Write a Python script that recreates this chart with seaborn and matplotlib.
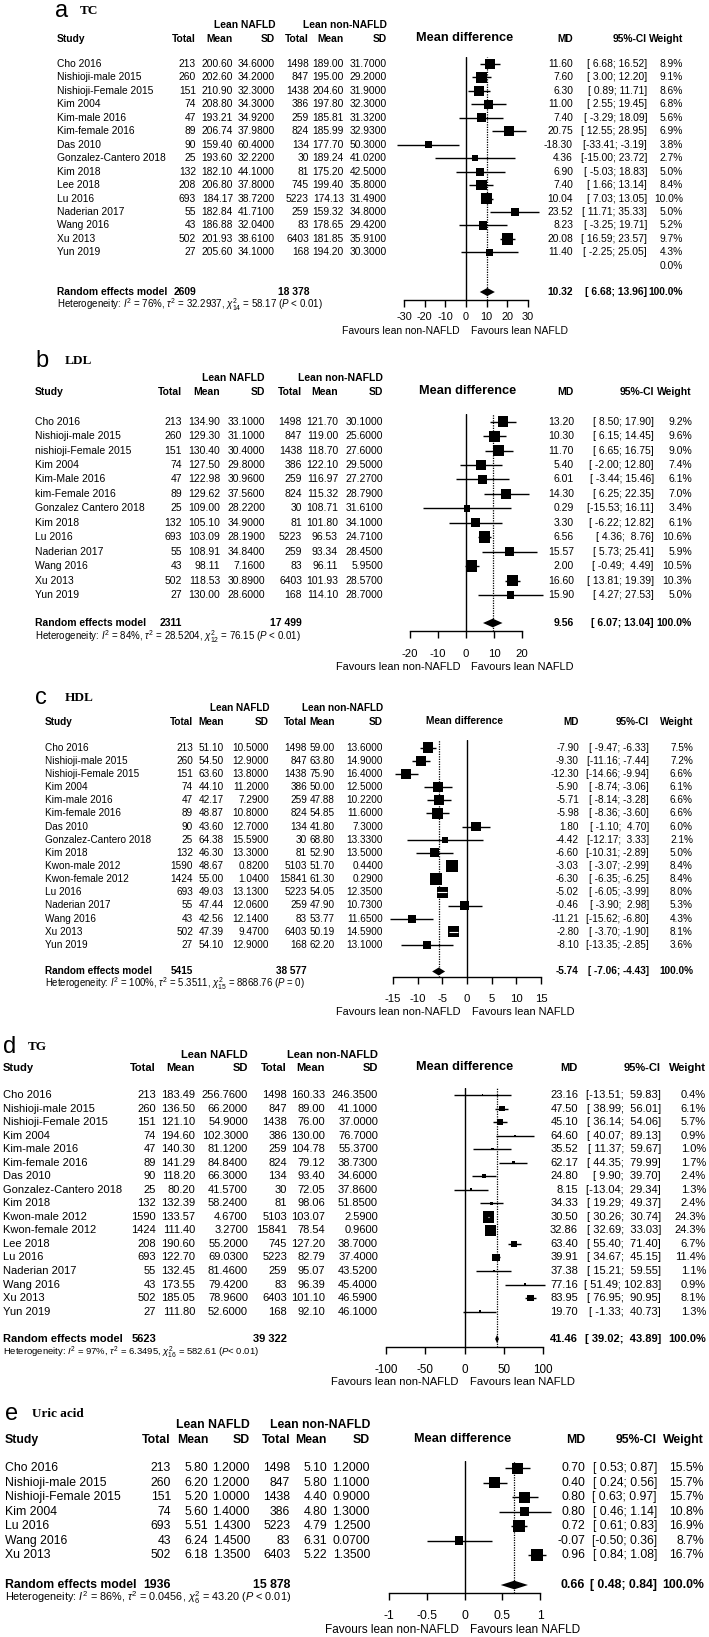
import numpy as np
import pandas as pd
import matplotlib
matplotlib.use('Agg')
import matplotlib.pyplot as plt
import matplotlib.transforms as mtransforms
import seaborn as sns

# ---------------- data ----------------
# a  TC
tc_study = ['Cho 2016', 'Nishioji-male 2015', 'Nishioji-Female 2015', 'Kim 2004', 'Kim-male 2016',
            'Kim-female 2016', 'Das 2010', 'Gonzalez-Cantero 2018', 'Kim 2018', 'Lee 2018', 'Lu 2016',
            'Naderian 2017', 'Wang 2016', 'Xu 2013', 'Yun 2019']
tc_n1 = [213, 260, 151, 74, 47, 89, 90, 25, 132, 208, 693, 55, 43, 502, 27]
tc_m1 = [200.60, 202.60, 210.90, 208.80, 193.21, 206.74, 159.40, 193.60, 182.10, 206.80, 184.17, 182.84, 186.88, 201.93, 205.60]
tc_s1 = [34.60, 34.20, 32.30, 34.30, 34.92, 37.98, 60.40, 32.22, 44.10, 37.80, 38.72, 41.71, 32.04, 38.61, 34.10]
tc_n2 = [1498, 847, 1438, 386, 259, 824, 134, 30, 81, 745, 5223, 259, 83, 6403, 168]
tc_m2 = [189.00, 195.00, 204.60, 197.80, 185.81, 185.99, 177.70, 189.24, 175.20, 199.40, 174.13, 159.32, 178.65, 181.85, 194.20]
tc_s2 = [31.70, 29.20, 31.90, 32.30, 31.32, 32.93, 50.30, 41.02, 42.50, 35.80, 31.49, 34.80, 29.42, 35.91, 30.30]
tc_md = [11.60, 7.60, 6.30, 11.00, 7.40, 20.75, -18.30, 4.36, 6.90, 7.40, 10.04, 23.52, 8.23, 20.08, 11.40]
tc_lo = [6.68, 3.00, 0.89, 2.55, -3.29, 12.55, -33.41, -15.00, -5.03, 1.66, 7.03, 11.71, -3.25, 16.59, -2.25]
tc_hi = [16.52, 12.20, 11.71, 19.45, 18.09, 28.95, -3.19, 23.72, 18.83, 13.14, 13.05, 35.33, 19.71, 23.57, 25.05]
tc_w = [8.9, 9.1, 8.6, 6.8, 5.6, 6.9, 3.8, 2.7, 5.0, 8.4, 10.0, 5.0, 5.2, 9.7, 4.3]
tc_extra_w = [0.0]
tc_sum = [10.32, 6.68, 13.96]
tc_tot = ['2609', '18 378']
tc_het = r'Heterogeneity: $I^2$ = 76%, $\tau^2$ = 32.2937, $\chi^2_{14}$ = 58.17 ($P$ < 0.01)'
tc_ticks = [-30, -20, -10, 0, 10, 20, 30]

# b  LDL
ldl_study = ['Cho 2016', 'Nishioji-male 2015', 'nishioji-Female 2015', 'Kim 2004', 'Kim-Male 2016',
             'kim-Female 2016', 'Gonzalez Cantero 2018', 'Kim 2018', 'Lu 2016', 'Naderian 2017',
             'Wang 2016', 'Xu 2013', 'Yun 2019']
ldl_n1 = [213, 260, 151, 74, 47, 89, 25, 132, 693, 55, 43, 502, 27]
ldl_m1 = [134.90, 129.30, 130.40, 127.50, 122.98, 129.62, 109.00, 105.10, 103.09, 108.91, 98.11, 118.53, 130.00]
ldl_s1 = [33.10, 31.10, 30.40, 29.80, 30.96, 37.56, 28.22, 34.90, 28.19, 34.84, 7.16, 30.89, 28.60]
ldl_n2 = [1498, 847, 1438, 386, 259, 824, 30, 81, 5223, 259, 83, 6403, 168]
ldl_m2 = [121.70, 119.00, 118.70, 122.10, 116.97, 115.32, 108.71, 101.80, 96.53, 93.34, 96.11, 101.93, 114.10]
ldl_s2 = [30.10, 25.60, 27.60, 29.50, 27.27, 28.79, 31.61, 34.10, 24.71, 28.45, 5.95, 28.57, 28.70]
ldl_md = [13.20, 10.30, 11.70, 5.40, 6.01, 14.30, 0.29, 3.30, 6.56, 15.57, 2.00, 16.60, 15.90]
ldl_lo = [8.50, 6.15, 6.65, -2.00, -3.44, 6.25, -15.53, -6.22, 4.36, 5.73, -0.49, 13.81, 4.27]
ldl_hi = [17.90, 14.45, 16.75, 12.80, 15.46, 22.35, 16.11, 12.82, 8.76, 25.41, 4.49, 19.39, 27.53]
ldl_w = [9.2, 9.6, 9.0, 7.4, 6.1, 7.0, 3.4, 6.1, 10.6, 5.9, 10.5, 10.3, 5.0]
ldl_sum = [9.56, 6.07, 13.04]
ldl_tot = ['2311', '17 499']
ldl_het = r'Heterogeneity: $I^2$ = 84%, $\tau^2$ = 28.5204, $\chi^2_{12}$ = 76.15 ($P$ < 0.01)'
ldl_ticks = [-20, -10, 0, 10, 20]

# c  HDL
hdl_study = ['Cho 2016', 'Nishioji-male 2015', 'Nishioji-Female 2015', 'Kim 2004', 'Kim-male 2016',
             'Kim-female 2016', 'Das 2010', 'Gonzalez-Cantero 2018', 'Kim 2018', 'Kwon-male 2012',
             'Kwon-female 2012', 'Lu 2016', 'Naderian 2017', 'Wang 2016', 'Xu 2013', 'Yun 2019']
hdl_n1 = [213, 260, 151, 74, 47, 89, 90, 25, 132, 1590, 1424, 693, 55, 43, 502, 27]
hdl_m1 = [51.10, 54.50, 63.60, 44.10, 42.17, 48.87, 43.60, 64.38, 46.30, 48.67, 55.00, 49.03, 47.44, 42.56, 47.39, 54.10]
hdl_s1 = [10.50, 12.90, 13.80, 11.20, 7.29, 10.80, 12.70, 15.59, 13.30, 0.82, 1.04, 13.13, 12.06, 12.14, 9.47, 12.90]
hdl_n2 = [1498, 847, 1438, 386, 259, 824, 134, 30, 81, 5103, 15841, 5223, 259, 83, 6403, 168]
hdl_m2 = [59.00, 63.80, 75.90, 50.00, 47.88, 54.85, 41.80, 68.80, 52.90, 51.70, 61.30, 54.05, 47.90, 53.77, 50.19, 62.20]
hdl_s2 = [13.60, 14.90, 16.40, 12.50, 10.22, 11.60, 7.30, 13.33, 13.50, 0.44, 0.29, 12.35, 10.73, 11.65, 14.59, 13.10]
hdl_md = [-7.90, -9.30, -12.30, -5.90, -5.71, -5.98, 1.80, -4.42, -6.60, -3.03, -6.30, -5.02, -0.46, -11.21, -2.80, -8.10]
hdl_lo = [-9.47, -11.16, -14.66, -8.74, -8.14, -8.36, -1.10, -12.17, -10.31, -3.07, -6.35, -6.05, -3.90, -15.62, -3.70, -13.35]
hdl_hi = [-6.33, -7.44, -9.94, -3.06, -3.28, -3.60, 4.70, 3.33, -2.89, -2.99, -6.25, -3.99, 2.98, -6.80, -1.90, -2.85]
hdl_w = [7.5, 7.2, 6.6, 6.1, 6.6, 6.6, 6.0, 2.1, 5.0, 8.4, 8.4, 8.0, 5.3, 4.3, 8.1, 3.6]
hdl_sum = [-5.74, -7.06, -4.43]
hdl_tot = ['5415', '38 577']
hdl_het = r'Heterogeneity: $I^2$ = 100%, $\tau^2$ = 5.3511, $\chi^2_{15}$ = 8868.76 ($P$ = 0)'
hdl_ticks = [-15, -10, -5, 0, 5, 10, 15]

# d  TG
tg_study = ['Cho 2016', 'Nishioji-male 2015', 'Nishioji-Female 2015', 'Kim 2004', 'Kim-male 2016',
            'Kim-female 2016', 'Das 2010', 'Gonzalez-Cantero 2018', 'Kim 2018', 'Kwon-male 2012',
            'Kwon-female 2012', 'Lee 2018', 'Lu 2016', 'Naderian 2017', 'Wang 2016', 'Xu 2013', 'Yun 2019']
tg_n1 = [213, 260, 151, 74, 47, 89, 90, 25, 132, 1590, 1424, 208, 693, 55, 43, 502, 27]
tg_m1 = [183.49, 136.50, 121.10, 194.60, 140.30, 141.29, 118.20, 80.20, 132.39, 133.57, 111.40, 190.60, 122.70, 132.45, 173.55, 185.05, 111.80]
tg_s1 = [256.76, 66.20, 54.90, 102.30, 81.12, 84.84, 66.30, 41.57, 58.24, 4.67, 3.27, 55.20, 69.03, 81.46, 79.42, 78.96, 52.60]
tg_n2 = [1498, 847, 1438, 386, 259, 824, 134, 30, 81, 5103, 15841, 745, 5223, 259, 83, 6403, 168]
tg_m2 = [160.33, 89.00, 76.00, 130.00, 104.78, 79.12, 93.40, 72.05, 98.06, 103.07, 78.54, 127.20, 82.79, 95.07, 96.39, 101.10, 92.10]
tg_s2 = [246.35, 41.10, 37.00, 76.70, 55.37, 38.73, 34.60, 37.86, 51.85, 2.59, 0.96, 38.70, 37.40, 43.52, 45.40, 46.59, 46.10]
tg_md = [23.16, 47.50, 45.10, 64.60, 35.52, 62.17, 24.80, 8.15, 34.33, 30.50, 32.86, 63.40, 39.91, 37.38, 77.16, 83.95, 19.70]
tg_lo = [-13.51, 38.99, 36.14, 40.07, 11.37, 44.35, 9.90, -13.04, 19.29, 30.26, 32.69, 55.40, 34.67, 15.21, 51.49, 76.95, -1.33]
tg_hi = [59.83, 56.01, 54.06, 89.13, 59.67, 79.99, 39.70, 29.34, 49.37, 30.74, 33.03, 71.40, 45.15, 59.55, 102.83, 90.95, 40.73]
tg_w = [0.4, 6.1, 5.7, 0.9, 1.0, 1.7, 2.4, 1.3, 2.4, 24.3, 24.3, 6.7, 11.4, 1.1, 0.9, 8.1, 1.3]
tg_sum = [41.46, 39.02, 43.89]
tg_tot = ['5623', '39 322']
tg_het = r'Heterogeneity: $I^2$ = 97%, $\tau^2$ = 6.3495, $\chi^2_{16}$ = 582.61 ($P$< 0.01)'
tg_ticks = [-100, -50, 0, 50, 100]

# e  Uric acid
ua_study = ['Cho 2016', 'Nishioji-male 2015', 'Nishioji-Female 2015', 'Kim 2004', 'Lu 2016', 'Wang 2016', 'Xu 2013']
ua_n1 = [213, 260, 151, 74, 693, 43, 502]
ua_m1 = [5.80, 6.20, 5.20, 5.60, 5.51, 6.24, 6.18]
ua_s1 = [1.20, 1.20, 1.00, 1.40, 1.43, 1.45, 1.35]
ua_n2 = [1498, 847, 1438, 386, 5223, 83, 6403]
ua_m2 = [5.10, 5.80, 4.40, 4.80, 4.79, 6.31, 5.22]
ua_s2 = [1.20, 1.10, 0.90, 1.30, 1.25, 0.07, 1.35]
ua_md = [0.70, 0.40, 0.80, 0.80, 0.72, -0.07, 0.96]
ua_lo = [0.53, 0.24, 0.63, 0.46, 0.61, -0.50, 0.84]
ua_hi = [0.87, 0.56, 0.97, 1.14, 0.83, 0.36, 1.08]
ua_w = [15.5, 15.7, 15.7, 10.8, 16.9, 8.7, 16.7]
ua_sum = [0.66, 0.48, 0.84]
ua_tot = ['1936', '15 878']
ua_het = r'Heterogeneity: $I^2$ = 86%, $\tau^2$ = 0.0456, $\chi^2_{6}$ = 43.20 ($P$ < 0.01)'
ua_ticks = [-1, -0.5, 0, 0.5, 1]

# ---------------- style ----------------
sns.set_theme(style='white')
plt.rcParams['font.family'] = ['Liberation Sans', 'DejaVu Sans']
plt.rcParams['mathtext.fontset'] = 'custom'
plt.rcParams['mathtext.rm'] = 'Liberation Sans'
plt.rcParams['mathtext.it'] = 'Liberation Sans:italic'
plt.rcParams['mathtext.bf'] = 'Liberation Sans:bold'
plt.rcParams['text.color'] = 'black'

W, H = 709, 1637
fig = plt.figure(figsize=(W / 100, H / 100), dpi=100)

# pixel layout of each panel (y = row centres, x = column right edges)
LA = dict(y0=64, dy=13.45, top=57, axis=300, sum=292, het=305, h1=25, h2=39, fav=331, ty=11,
          lx=55, tx=80, study=57, tot1=196, mean1=233, sd1=275, tot2=309, mean2=344, sd2=387,
          x_lo=404, x_hi=528, mdh=465, md=573, ci=647, wt=683,
          fs=7.4, hfs=9.2, tfs=7.8, tpad=4, hetfs=7.0)
LB = dict(y0=421.7, dy=14.44, top=414, axis=631, sum=623, het=637, h1=378, h2=392, fav=667, ty=361,
          lx=35, tx=65, study=35, tot1=182, mean1=220, sd1=265, tot2=302, mean2=338, sd2=383,
          x_lo=410, x_hi=522, mdh=468, md=574, ci=654, wt=692,
          fs=7.5, hfs=9.2, tfs=8.2, tpad=8, hetfs=7.0)
LC = dict(y0=747.7, dy=13.15, top=740, axis=977, sum=971.5, het=984, h1=708, h2=722, fav=1012, ty=698,
          lx=35, tx=65, study=45, tot1=193, mean1=224, sd1=269, tot2=307, mean2=335, sd2=383,
          x_lo=393, x_hi=541, mdh=465, md=579, ci=649, wt=693,
          fs=7.2, hfs=7.3, tfs=8.2, tpad=7.5, hetfs=6.9)
LD = dict(y0=1095, dy=13.54, top=1088, axis=1347, sum=1339, het=1352, h1=1055, h2=1068, fav=1382, ty=1047,
          lx=3, tx=28, study=3, tot1=156, mean1=195, sd1=248, tot2=287, mean2=325, sd2=378,
          x_lo=386, x_hi=543, mdh=465, md=578, ci=661, wt=706,
          fs=8.0, hfs=9.2, tfs=8.4, tpad=7, hetfs=6.8)
LE = dict(y0=1468.3, dy=14.45, top=1461, axis=1593, sum=1585, het=1598, h1=1425, h2=1440, fav=1630, ty=1414,
          lx=5, tx=32, study=5, tot1=171, mean1=208, sd1=250, tot2=290, mean2=327, sd2=370,
          x_lo=389, x_hi=540, mdh=463, md=585, ci=657, wt=704,
          fs=8.8, hfs=9.2, tfs=8.8, tpad=7, hetfs=7.8)


def ci_strings(lo, hi):
    los = [f'{v:.2f}' for v in lo]
    his = [f'{v:.2f}' for v in hi]
    wl = max(len(s) for s in los)
    wh = max(len(s) for s in his)
    out = []
    for a, b in zip(los, his):
        pa = ' ' if len(a) < wl else ''
        pb = ' ' if len(b) < wh else ''
        out.append(f'[{pa}{a}; {pb}{b}]')
    return out


def panel(L, letter, title, study, n1, m1, s1, n2, m2, s2, md, lo, hi, wt,
          summ, tot, het, ticks, extra_w=None):
    fs = L['fs']
    y0, dy = L['y0'], L['dy']

    def r(py):
        return (py - y0) / dy

    ax = fig.add_axes([L['x_lo'] / W, 1 - L['axis'] / H,
                       (L['x_hi'] - L['x_lo']) / W, (L['axis'] - L['top']) / H])
    ax.patch.set_alpha(0)

    df = pd.DataFrame({'md': md, 'lo': lo, 'hi': hi, 'w': wt, 'row': np.arange(len(md))})
    ppu = (L['x_hi'] - L['x_lo']) / (ticks[-1] - ticks[0])
    side_max = 11.5
    side = side_max * np.sqrt(df.w / df.w.max())

    # confidence intervals + weighted squares
    ax.hlines(df.row, df.lo, df.hi, color='black', lw=1, zorder=2, clip_on=False)
    sns.scatterplot(data=df, x='md', y='row', size='w', sizes=(0, (side_max * 0.72) ** 2),
                    size_norm=(0, df.w.max()), marker='s', color='black', linewidth=0,
                    legend=False, ax=ax, zorder=3, clip_on=False)
    inner = df[(df.hi - df.lo) * ppu < side]
    ax.hlines(inner.row, inner.lo, inner.hi, color='white', lw=0.8, zorder=4)

    # pooled diamond
    sr = r(L['sum'])
    ax.fill([summ[1], summ[0], summ[2], summ[0]], [sr, sr - 0.3, sr, sr + 0.3],
            color='black', lw=0, zorder=3, clip_on=False)
    ax.axvline(0, color='black', lw=1, zorder=1)
    ax.axvline(summ[0], color='black', lw=0.9, ls=(0, (1, 1)), zorder=1)

    ax.set_xlim(ticks[0], ticks[-1])
    ax.set_ylim(r(L['axis']), r(L['top']))
    sns.despine(ax=ax, left=True)
    ax.spines['bottom'].set_color('black')
    ax.spines['bottom'].set_linewidth(1)
    ax.set_xticks(ticks)
    ax.set_xticklabels([f'{t:g}' for t in ticks])
    ax.set_yticks([])
    ax.set_xlabel('')
    ax.set_ylabel('')
    ax.grid(False)
    ax.tick_params(axis='x', bottom=True, direction='out', length=5, width=1, colors='black',
                   labelsize=L['tfs'], pad=L['tpad'])

    tr = mtransforms.blended_transform_factory(fig.transFigure, ax.transData)

    def put(px, row, s, ha='right', size=None, **kw):
        ax.text(px / W, row, s, transform=tr, ha=ha, va='center',
                fontsize=size or fs, clip_on=False, **kw)

    # titles and headers
    put(L['lx'], r(L['ty']), letter, ha='left', size=17)
    put(L['tx'], r(L['ty']), title, ha='left', size=9.5, family=['Liberation Serif', 'DejaVu Serif'],
        weight='bold')
    put(L['sd1'], r(L['h1']), 'Lean NAFLD', weight='bold')
    put(L['sd2'], r(L['h1']), 'Lean non-NAFLD', weight='bold')
    h2 = r(L['h2'])
    put(L['study'], h2, 'Study', ha='left', weight='bold')
    for key, lab in [('tot1', 'Total'), ('mean1', 'Mean'), ('sd1', 'SD'),
                     ('tot2', 'Total'), ('mean2', 'Mean'), ('sd2', 'SD'),
                     ('md', 'MD'), ('ci', '95%-CI'), ('wt', 'Weight')]:
        put(L[key], h2, lab, weight='bold')
    put(L['mdh'], h2 - 0.1, 'Mean difference', ha='center', size=L['hfs'], weight='bold')

    # study rows
    cis = ci_strings(list(lo) + [summ[1]], list(hi) + [summ[2]])
    for i in range(len(study)):
        put(L['study'], i, study[i], ha='left')
        put(L['tot1'], i, f'{n1[i]}')
        put(L['mean1'], i, f'{m1[i]:.2f}')
        put(L['sd1'], i, f'{s1[i]:.4f}')
        put(L['tot2'], i, f'{n2[i]}')
        put(L['mean2'], i, f'{m2[i]:.2f}')
        put(L['sd2'], i, f'{s2[i]:.4f}')
        put(L['md'], i, f'{md[i]:.2f}')
        put(L['ci'], i, cis[i])
        put(L['wt'], i, f'{wt[i]:.1f}%')
    if extra_w is not None:
        for j, v in enumerate(extra_w):
            put(L['wt'], len(study) + j, f'{v:.1f}%')

    # pooled row
    put(L['study'], sr, 'Random effects model', ha='left', weight='bold')
    put(L['tot1'], sr, tot[0], weight='bold')
    put(L['tot2'], sr, tot[1], weight='bold')
    put(L['md'], sr, f'{summ[0]:.2f}', weight='bold')
    put(L['ci'], sr, cis[-1], weight='bold')
    put(L['wt'], sr, '100.0%', weight='bold')
    put(L['study'], r(L['het']), het, ha='left', size=L['hetfs'])

    # favours labels
    x0 = L['x_lo'] + (0 - ticks[0]) * ppu
    put(x0 - 6, r(L['fav']), 'Favours lean non-NAFLD', size=L['tfs'] - 0.3)
    put(x0 + 5, r(L['fav']), 'Favours lean NAFLD', ha='left', size=L['tfs'] - 0.3)
    return ax


panel(LA, 'a', 'TC', tc_study, tc_n1, tc_m1, tc_s1, tc_n2, tc_m2, tc_s2,
      tc_md, tc_lo, tc_hi, tc_w, tc_sum, tc_tot, tc_het, tc_ticks, extra_w=tc_extra_w)
panel(LB, 'b', 'LDL', ldl_study, ldl_n1, ldl_m1, ldl_s1, ldl_n2, ldl_m2, ldl_s2,
      ldl_md, ldl_lo, ldl_hi, ldl_w, ldl_sum, ldl_tot, ldl_het, ldl_ticks)
panel(LC, 'c', 'HDL', hdl_study, hdl_n1, hdl_m1, hdl_s1, hdl_n2, hdl_m2, hdl_s2,
      hdl_md, hdl_lo, hdl_hi, hdl_w, hdl_sum, hdl_tot, hdl_het, hdl_ticks)
panel(LD, 'd', 'TG', tg_study, tg_n1, tg_m1, tg_s1, tg_n2, tg_m2, tg_s2,
      tg_md, tg_lo, tg_hi, tg_w, tg_sum, tg_tot, tg_het, tg_ticks)
panel(LE, 'e', 'Uric acid', ua_study, ua_n1, ua_m1, ua_s1, ua_n2, ua_m2, ua_s2,
      ua_md, ua_lo, ua_hi, ua_w, ua_sum, ua_tot, ua_het, ua_ticks)

fig.savefig('out.png', dpi=100, facecolor='white')
print('saved out.png')
